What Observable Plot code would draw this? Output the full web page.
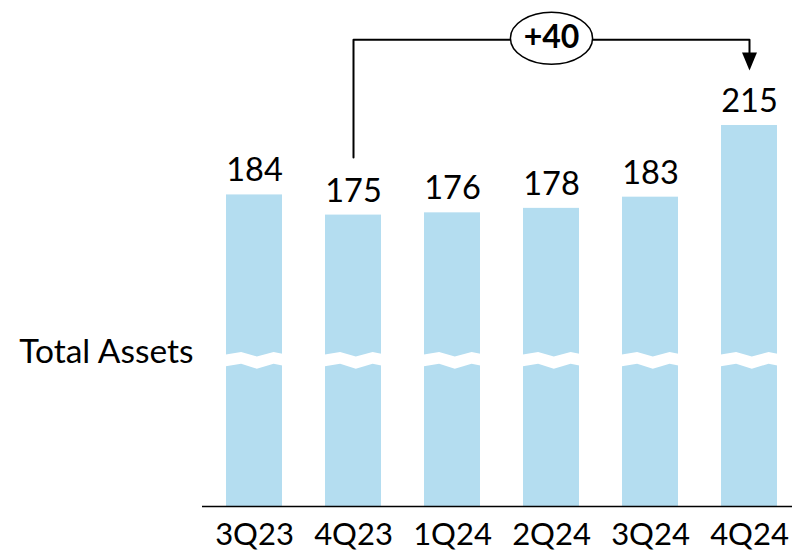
<!DOCTYPE html>
<html>
<head>
<meta charset="utf-8">
<script src="https://cdn.jsdelivr.net/npm/d3@7"></script>
<script src="https://cdn.jsdelivr.net/npm/@observablehq/plot@0.6"></script>
<style>
  html, body { margin: 0; padding: 0; background: #fff; }
  #chart svg { display: block; }
</style>
</head>
<body>
<div id="chart"></div>
<script>
// ---- data ----
const quarters = ["3Q23", "4Q23", "1Q24", "2Q24", "3Q24", "4Q24"];
const totalAssets = [184, 175, 176, 178, 183, 215];
const rowLabel = "Total Assets";
const changeFrom = "4Q23";
const changeTo = "4Q24";
const changeLabel = "+40";

// ---- scale setup (broken axis: bars start at an arbitrary base) ----
const baseValue = 44.9;     // value mapped to the baseline (axis break)
const topValue = 270.8;     // value mapped to the top of the SVG
const breakValue = 110;     // where the wavy break is drawn

const data = quarters.map((q, i) => ({q, v: totalAssets[i]}));
const vOf = q => totalAssets[quarters.indexOf(q)];
const bracketTop = d3.max(totalAssets) + 38.3;
const bracketStart = vOf(changeFrom) + 25.7;
const arrowTip = vOf(changeTo) + 24.5;
const midQuarter = quarters[Math.round((quarters.indexOf(changeFrom) + quarters.indexOf(changeTo)) / 2)];

const barColor = "#B4DDF0";

// custom symbols
const ellipseSymbol = {
  draw(ctx, size) {
    const r = Math.sqrt(size / Math.PI);
    const rx = r * 1.58, ry = r, k = 0.5523;
    ctx.moveTo(-rx, 0);
    ctx.bezierCurveTo(-rx, -ry * k, -rx * k, -ry, 0, -ry);
    ctx.bezierCurveTo(rx * k, -ry, rx, -ry * k, rx, 0);
    ctx.bezierCurveTo(rx, ry * k, rx * k, ry, 0, ry);
    ctx.bezierCurveTo(-rx * k, ry, -rx, ry * k, -rx, 0);
    ctx.closePath();
  }
};
const arrowSymbol = {
  draw(ctx, size) {
    const r = Math.sqrt(size / Math.PI);
    ctx.moveTo(0, 0);
    ctx.lineTo(-0.83 * r, -2 * r);
    ctx.lineTo(0.83 * r, -2 * r);
    ctx.closePath();
  }
};

// wavy break drawn over every bar using the plot's scales
const breakMark = (index, scales) => {
  const {x, y} = scales;
  const bw = x.bandwidth();
  const yc = y(breakValue);
  const topEdge = [[-0.03, -5.5], [0.27, -8.2], [0.55, -3.8], [0.85, -8.2], [1.03, -6.2]];
  const botEdge = [[1.03, 5.5], [0.85, 3.5], [0.55, 8.5], [0.27, 3.5], [-0.03, 6.2]];
  const g = d3.create("svg:g");
  for (const q of quarters) {
    const x0 = x(q);
    const pts = [...topEdge, ...botEdge].map(([f, o]) => [x0 + f * bw, yc + o]);
    g.append("path").attr("d", "M" + pts.map(p => p.join(",")).join("L") + "Z").attr("fill", "white");
  }
  return g.node();
};

const chart = Plot.plot({
  width: 792,
  height: 553,
  marginLeft: 202,
  marginRight: 0,
  marginTop: 0,
  marginBottom: 47,
  style: {fontFamily: "Lato, 'Open Sans', sans-serif", fontSize: "31px", color: "black", background: "white"},
  x: {domain: quarters, paddingInner: 0.438, paddingOuter: 0.181, align: 0.61, tickSize: 0, tickPadding: 16.5, label: null},
  y: {domain: [baseValue, topValue], axis: null},
  marks: [
    Plot.barY(data, {x: "q", y1: baseValue, y2: "v", fill: barColor}),
    breakMark,
    Plot.ruleY([baseValue], {stroke: "black", strokeWidth: 1.5}),
    Plot.text(data, {x: "q", y: "v", text: d => String(d.v), dy: -13.5, lineAnchor: "bottom", fontSize: 32.5, fill: "black"}),
    Plot.text([rowLabel], {frameAnchor: "left", y: () => breakValue, text: d => d, textAnchor: "end", dx: -9, dy: -8, fontSize: 33.5, fill: "black"}),
    Plot.line([
      {q: changeFrom, v: bracketStart},
      {q: changeFrom, v: bracketTop},
      {q: changeTo, v: bracketTop},
      {q: changeTo, v: arrowTip + 4}
    ], {x: "q", y: "v", stroke: "black", strokeWidth: 2}),
    Plot.dot([{q: changeTo, v: arrowTip}], {x: "q", y: "v", r: 9, symbol: arrowSymbol, fill: "black", stroke: "none"}),
    Plot.dot([{q: midQuarter, v: bracketTop}], {x: "q", y: "v", r: 26, dy: -1.5, symbol: ellipseSymbol, fill: "white", stroke: "black", strokeWidth: 1.5}),
    Plot.text([{q: midQuarter, v: bracketTop}], {x: "q", y: "v", text: () => changeLabel, dy: -1.5, fontSize: 32, fontWeight: "bold", fill: "black"})
  ]
});
document.getElementById("chart").appendChild(chart);
</script>
</body>
</html>
